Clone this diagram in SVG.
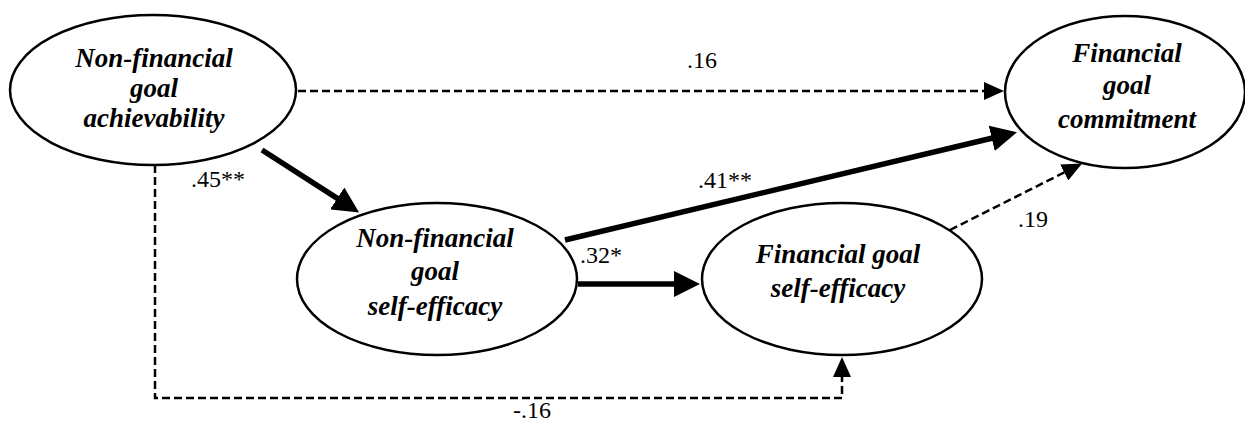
<svg xmlns="http://www.w3.org/2000/svg" width="1245" height="421" viewBox="0 0 1245 421">
<style>
.node ellipse{fill:#fff;stroke:#000;stroke-width:2.5}
.nt{font-weight:bold;font-style:italic;font-size:27px;text-anchor:middle;fill:#000}
.lbl{font-size:24px;fill:#000}
.thick{fill:none;stroke:#000;stroke-width:5.5}
.dash{fill:none;stroke:#000;stroke-width:2.5;stroke-dasharray:8 4}
</style>
<defs>
<marker id="ah" markerUnits="userSpaceOnUse" viewBox="0 0 26 26" markerWidth="26" markerHeight="26" refX="1" refY="13" orient="auto"><path d="M0,0 L26,13 L0,26 z" fill="#000"/></marker>
<marker id="ad" markerUnits="userSpaceOnUse" viewBox="0 0 20 18" markerWidth="20" markerHeight="18" refX="1" refY="9" orient="auto"><path d="M0,0 L20,9 L0,18 z" fill="#000"/></marker>
</defs>
<rect width="1245" height="421" fill="#fff"/>
<g id="connectors" font-family="Liberation Serif, DejaVu Serif, serif">
<path class="dash" d="M298,91 H985" marker-end="url(#ad)"/>
<path class="thick" d="M262,150 L338.1,198.9" marker-end="url(#ah)"/>
<path class="thick" d="M565,240 L992.7,138" marker-end="url(#ah)"/>
<path class="thick" d="M578,284 H675" marker-end="url(#ah)"/>
<path class="dash" d="M950,230 L1065.1,172" marker-end="url(#ad)"/>
<path class="dash" d="M155,165 V398 H842 V376" marker-end="url(#ad)"/>
<text class="lbl" x="687" y="68">.16</text>
<text class="lbl" x="191" y="187">.45**</text>
<text class="lbl" x="698" y="188">.41**</text>
<text class="lbl" x="580" y="263">.32*</text>
<text class="lbl" x="1018" y="227">.19</text>
<text class="lbl" x="513" y="418">-.16</text>
</g>
<g id="n1" class="node" font-family="Liberation Serif, DejaVu Serif, serif">
<ellipse cx="153" cy="90" rx="143" ry="75"/>
<text class="nt" x="154" y="67">Non-financial</text>
<text class="nt" x="154" y="97">goal</text>
<text class="nt" x="154" y="127">achievability</text>
</g>
<g id="n2" class="node" font-family="Liberation Serif, DejaVu Serif, serif">
<ellipse cx="1125" cy="92" rx="120" ry="76"/>
<text class="nt" x="1127" y="62">Financial</text>
<text class="nt" x="1127" y="94">goal</text>
<text class="nt" x="1127" y="128">commitment</text>
</g>
<g id="n3" class="node" font-family="Liberation Serif, DejaVu Serif, serif">
<ellipse cx="437" cy="279" rx="140" ry="76"/>
<text class="nt" x="435" y="247">Non-financial</text>
<text class="nt" x="435" y="280">goal</text>
<text class="nt" x="435" y="315">self-efficacy</text>
</g>
<g id="n4" class="node" font-family="Liberation Serif, DejaVu Serif, serif">
<ellipse cx="842" cy="279" rx="140" ry="76"/>
<text class="nt" x="838" y="263">Financial goal</text>
<text class="nt" x="838" y="297">self-efficacy</text>
</g>
</svg>
